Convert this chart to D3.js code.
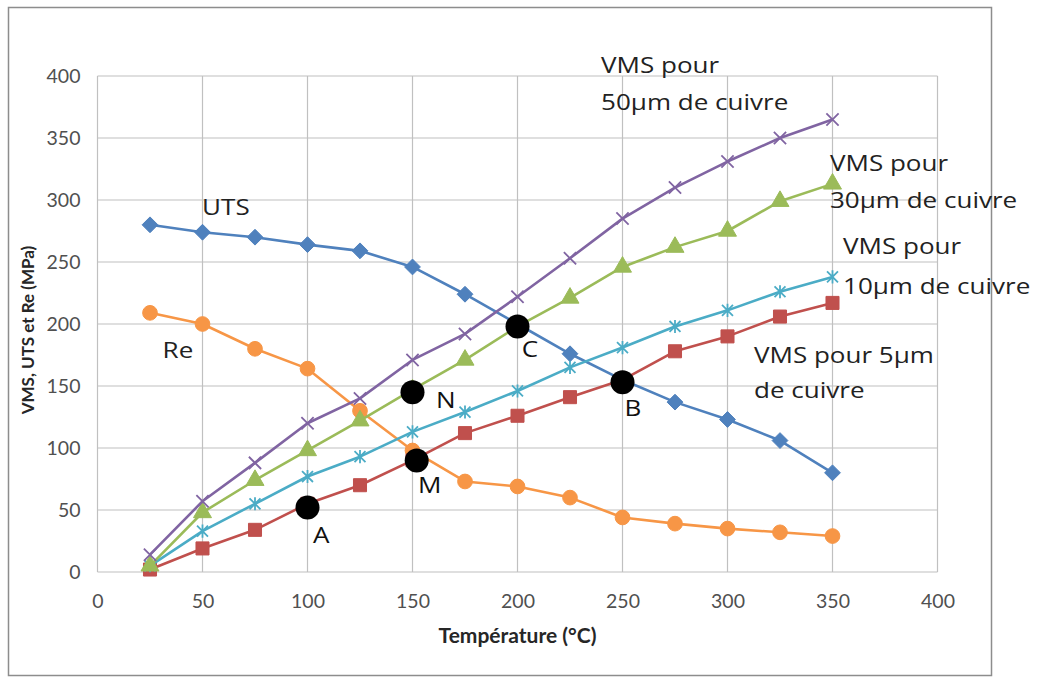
<!DOCTYPE html>
<html>
<head>
<meta charset="utf-8">
<script src="https://cdn.jsdelivr.net/npm/d3@7"></script>
<style>
  html, body { margin: 0; padding: 0; background: #fff; }
  svg { display: block; }
</style>
</head>
<body>
<svg id="chart" width="1038" height="679"></svg>
<script>
// ---------- DATA ----------
const temperatures = [25, 50, 75, 100, 125, 150, 175, 200, 225, 250, 275, 300, 325, 350];
const utsValues   = [280, 274, 270, 264, 259, 246, 224, 200, 176, 155, 137, 123, 106, 80];
const reValues    = [209, 200, 180, 164, 130, 98, 73, 69, 60, 44, 39, 35, 32, 29];
const vms50Values = [14, 57, 88, 120, 140, 171, 192, 222, 253, 285, 310, 331, 350, 365];
const vms30Values = [5, 48, 74, 98, 122, 147, 171, 198, 221, 246, 262, 275, 299, 313];
const vms10Values = [5, 33, 55, 77, 93, 113, 129, 146, 165, 181, 198, 211, 226, 238];
const vms5Values  = [2, 19, 34, 55, 70, 90, 112, 126, 141, 155, 178, 190, 206, 217];

const xTicks = [0, 50, 100, 150, 200, 250, 300, 350, 400];
const yTicks = [0, 50, 100, 150, 200, 250, 300, 350, 400];

const xTitle = "Température (°C)";
const yTitle = "VMS, UTS et Re (MPa)";

// black intersection points
const pointNames = ["A", "M", "N", "C", "B"];
const pointX     = [100, 152, 150, 200, 250];
const pointY     = [52, 90, 145, 198, 153];
// label anchors (data coords: left x, baseline y)
const pointLabelX = [102.6, 152.6, 161.2, 202, 251];
const pointLabelY = [23.4, 63.7, 132, 173.4, 125.8];

// series text labels
const seriesLabelLines = [["UTS"], ["Re"], ["VMS pour", "50µm de cuivre"], ["VMS pour", "30µm de cuivre"], ["VMS pour", "10µm de cuivre"], ["VMS pour 5µm", "de cuivre"]];
const seriesLabelX = [49.8, 31, 239.8, 348.8, 355, 312.6];
const seriesLabelY = [[288], [172.6], [402.4, 372.6], [323.4, 293.5], [256.5, 224.2], [168.5, 140.3]];

// ---------- STYLE ----------
const series = [
  { name: "UTS", values: utsValues, color: "#4F81BD", marker: "diamond" },
  { name: "Re", values: reValues, color: "#F79646", marker: "circle" },
  { name: "VMS5", values: vms5Values, color: "#C0504D", marker: "square" },
  { name: "VMS10", values: vms10Values, color: "#4BACC6", marker: "asterisk" },
  { name: "VMS30", values: vms30Values, color: "#9BBB59", marker: "triangle" },
  { name: "VMS50", values: vms50Values, color: "#8064A2", marker: "x" }
];

const svg = d3.select("#chart");
const plot = { left: 97.5, right: 937.5, top: 76, bottom: 572 };

const x = d3.scaleLinear().domain([0, 400]).range([plot.left, plot.right]);
const y = d3.scaleLinear().domain([0, 400]).range([plot.bottom, plot.top]);

// outer frame
svg.append("rect")
  .attr("x", 8.5).attr("y", 7.5).attr("width", 983).attr("height", 668)
  .attr("fill", "#fff").attr("stroke", "#8d8d8d").attr("stroke-width", 1.5);

// gridlines
const grid = svg.append("g").attr("stroke", "#c0c0c0").attr("stroke-width", 1.2);
grid.selectAll("line.h").data(yTicks).join("line")
  .attr("x1", plot.left).attr("x2", plot.right)
  .attr("y1", d => y(d)).attr("y2", d => y(d));
grid.selectAll("line.v").data(xTicks).join("line")
  .attr("y1", plot.top).attr("y2", plot.bottom)
  .attr("x1", d => x(d)).attr("x2", d => x(d));

// axes (labels only)
const tickFont = "Lato, 'Open Sans', sans-serif";
const xAxis = svg.append("g").attr("transform", `translate(0,${plot.bottom})`)
  .call(d3.axisBottom(x).tickValues(xTicks).tickSize(0).tickPadding(22).tickFormat(d3.format("d")));
const yAxis = svg.append("g").attr("transform", `translate(${plot.left},0)`)
  .call(d3.axisLeft(y).tickValues(yTicks).tickSize(0).tickPadding(17).tickFormat(d3.format("d")));
[xAxis, yAxis].forEach(a => {
  a.select(".domain").remove();
  a.selectAll("text").attr("fill", "#505050").style("font-family", tickFont).style("font-size", "19.5px");
});

// axis titles
svg.append("text")
  .attr("x", (plot.left + plot.right) / 2).attr("y", 643)
  .attr("text-anchor", "middle")
  .style("font-family", tickFont).style("font-weight", "bold").style("font-size", "21px")
  .attr("fill", "#262626").text(xTitle);
svg.append("text")
  .attr("transform", `translate(34,${(plot.top + plot.bottom) / 2 + 6}) rotate(-90)`)
  .attr("text-anchor", "middle")
  .style("font-family", tickFont).style("font-weight", "bold").style("font-size", "17px")
  .attr("fill", "#262626").text(yTitle);

// marker symbol types
const diamond = { draw(ctx, size) { const r = Math.sqrt(size) / 2 * Math.SQRT2; ctx.moveTo(0, -r); ctx.lineTo(r, 0); ctx.lineTo(0, r); ctx.lineTo(-r, 0); ctx.closePath(); } };
const xMark = { draw(ctx, size) { const r = Math.sqrt(size) / 2; ctx.moveTo(-r, -r); ctx.lineTo(r, r); ctx.moveTo(r, -r); ctx.lineTo(-r, r); } };
const asterisk = { draw(ctx, size) { const r = Math.sqrt(size) / 2; ctx.moveTo(-r, -r); ctx.lineTo(r, r); ctx.moveTo(r, -r); ctx.lineTo(-r, r); ctx.moveTo(0, -r * 1.2); ctx.lineTo(0, r * 1.2); } };

const markerGen = {
  diamond: d3.symbol().type(diamond).size(125),
  circle: d3.symbol().type(d3.symbolCircle).size(170),
  square: d3.symbol().type(d3.symbolSquare).size(170),
  triangle: d3.symbol().type(d3.symbolTriangle).size(140),
  x: d3.symbol().type(xMark).size(150),
  asterisk: d3.symbol().type(asterisk).size(120)
};

const line = d3.line().x((d, i) => x(temperatures[i])).y(d => y(d));

series.forEach(s => {
  const g = svg.append("g");
  g.append("path").datum(s.values)
    .attr("d", line).attr("fill", "none")
    .attr("stroke", s.color).attr("stroke-width", 2.6).attr("stroke-linejoin", "round");
  const stroked = (s.marker === "x" || s.marker === "asterisk");
  g.selectAll("path.m").data(s.values).join("path")
    .attr("class", "m")
    .attr("transform", (d, i) => `translate(${x(temperatures[i])},${y(d)})`)
    .attr("d", markerGen[s.marker])
    .attr("fill", stroked ? "none" : s.color)
    .attr("stroke", s.color)
    .attr("stroke-width", stroked ? 1.8 : 1);
});

// black intersection points
svg.append("g").selectAll("circle").data(pointNames).join("circle")
  .attr("cx", (d, i) => x(pointX[i])).attr("cy", (d, i) => y(pointY[i]))
  .attr("r", 12).attr("fill", "#000");

const annFont = "'Open Sans', sans-serif";
const stretch = 1.24;
svg.append("g").selectAll("text").data(pointNames).join("text")
  .attr("transform", (d, i) => `translate(${x(pointLabelX[i])},${y(pointLabelY[i])}) scale(${stretch},1)`)
  .style("font-family", annFont).style("font-size", "21px").attr("fill", "#111")
  .text(d => d);

seriesLabelLines.forEach((lines, k) => {
  lines.forEach((t, j) => {
    svg.append("text")
      .attr("transform", `translate(${x(seriesLabelX[k])},${y(seriesLabelY[k][j])}) scale(${stretch},1)`)
      .style("font-family", annFont).style("font-size", "21px").attr("fill", "#222")
      .text(t);
  });
});
</script>
</body>
</html>
